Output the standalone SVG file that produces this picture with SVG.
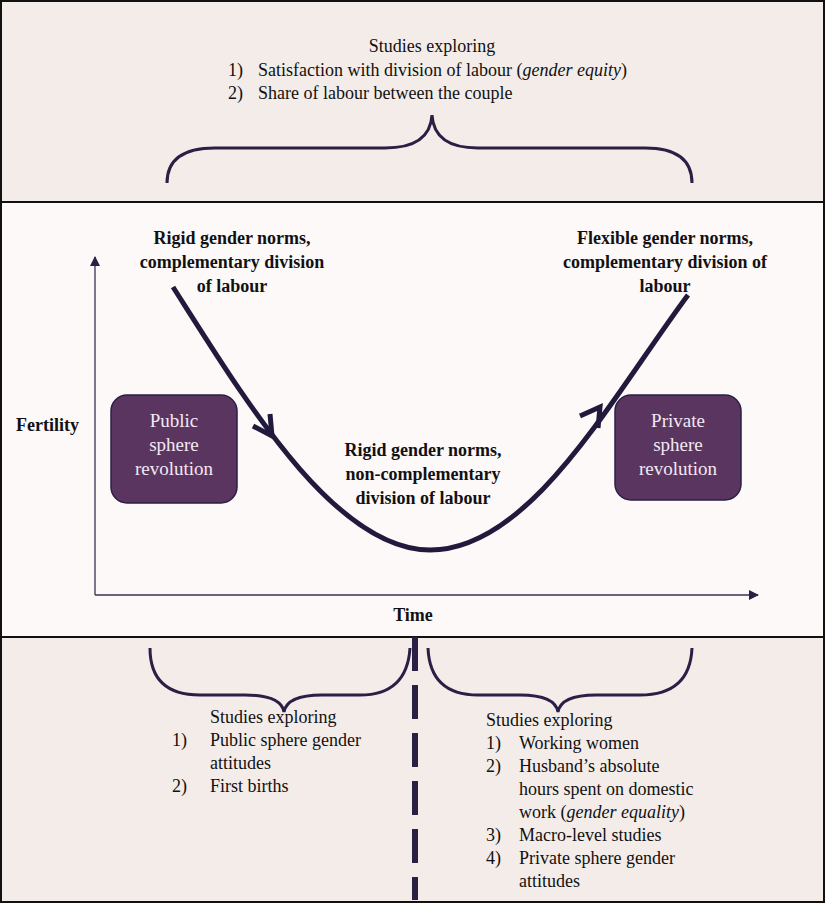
<svg xmlns="http://www.w3.org/2000/svg" width="825" height="903" viewBox="0 0 825 903">
<defs>
<style>
text{font-family:"Liberation Serif",Tinos,"Times New Roman","DejaVu Serif",serif;font-size:18px;fill:#111}
.b{font-weight:bold}
.w{fill:#f3e8f3;font-size:19px}
.br{fill:none;stroke:#2a1f45;stroke-width:3}
.box{fill:#5a3560;stroke:#2a1f45;stroke-width:1.5}
.chev{fill:none;stroke:#221a3c;stroke-width:5}
</style>
<marker id="ah" markerWidth="10" markerHeight="10" refX="9" refY="5" orient="auto" markerUnits="userSpaceOnUse"><path d="M0,0 L10,5 L0,10" fill="#2a1f45"/></marker>
</defs>
<rect x="1" y="1" width="823" height="201" fill="#f4ece9" stroke="#111" stroke-width="2"/>
<rect x="1" y="202" width="823" height="435" fill="#fdf9f9" stroke="#111" stroke-width="2"/>
<rect x="1" y="637" width="823" height="265" fill="#f4ece9" stroke="#111" stroke-width="2"/>

<g id="top-text">
<text x="432" y="52" text-anchor="middle">Studies exploring</text>
<text x="228" y="76">1)</text><text x="258" y="76">Satisfaction with division of labour (<tspan font-style="italic">gender equity</tspan>)</text>
<text x="228" y="99">2)</text><text x="258" y="99">Share of labour between the couple</text>
</g>

<g id="connectors">
<path class="br" d="M167,183 Q167,148 215,148 L385,148 Q430,148 432,115 Q434,148 478,148 L645,148 Q692,148 692,183"/>
<path class="br" d="M150,648 Q150,695 200,695 L245,695 Q281,695 284,712 Q287,695 322,695 L360,695 Q407,695 410,648"/>
<path class="br" d="M428,648 Q430,695 478,695 L520,695 Q555,695 558,712 Q561,695 596,695 L640,695 Q690,695 692,648"/>
<line x1="415" y1="637" x2="415" y2="900" stroke="#2a1f45" stroke-width="6" stroke-dasharray="34,14"/>
<line x1="95" y1="595" x2="95" y2="257" stroke="#3a3050" stroke-width="1.3" marker-end="url(#ah)"/>
<line x1="95" y1="595" x2="758" y2="595" stroke="#3a3050" stroke-width="1.3" marker-end="url(#ah)"/>
<path d="M173,287 C245,400 335,550 430,550 C530,550 610,400 688,295" fill="none" stroke="#221a3c" stroke-width="5"/>
<path class="chev" d="M253,426 L272,436 L270,414"/>
<path class="chev" d="M580,416 L600,407 L598,428"/>
</g>

<g id="labels">
<text class="b" x="232" y="244" text-anchor="middle">Rigid gender norms,</text>
<text class="b" x="232" y="268" text-anchor="middle">complementary division</text>
<text class="b" x="232" y="292" text-anchor="middle">of labour</text>
<text class="b" x="665" y="244" text-anchor="middle">Flexible gender norms,</text>
<text class="b" x="665" y="268" text-anchor="middle">complementary division of</text>
<text class="b" x="665" y="292" text-anchor="middle">labour</text>
<text class="b" x="423" y="456" text-anchor="middle">Rigid gender norms,</text>
<text class="b" x="423" y="480" text-anchor="middle">non-complementary</text>
<text class="b" x="423" y="504" text-anchor="middle">division of labour</text>
<text class="b" x="16" y="431">Fertility</text>
<text class="b" x="413" y="621" text-anchor="middle">Time</text>
</g>

<g id="public">
<rect class="box" x="111" y="395" width="126" height="108" rx="16"/>
<text class="w" x="174" y="427" text-anchor="middle">Public</text>
<text class="w" x="174" y="451" text-anchor="middle">sphere</text>
<text class="w" x="174" y="475" text-anchor="middle">revolution</text>
</g>
<g id="private">
<rect class="box" x="615" y="395" width="126" height="105" rx="16"/>
<text class="w" x="678" y="427" text-anchor="middle">Private</text>
<text class="w" x="678" y="451" text-anchor="middle">sphere</text>
<text class="w" x="678" y="475" text-anchor="middle">revolution</text>
</g>

<g id="bottom-left">
<text x="210" y="723">Studies exploring</text>
<text x="172" y="746">1)</text><text x="210" y="746">Public sphere gender</text>
<text x="210" y="769">attitudes</text>
<text x="172" y="792">2)</text><text x="210" y="792">First births</text>
</g>
<g id="bottom-right">
<text x="486" y="726">Studies exploring</text>
<text x="486" y="749">1)</text><text x="519" y="749">Working women</text>
<text x="486" y="772">2)</text><text x="519" y="772">Husband’s absolute</text>
<text x="519" y="795">hours spent on domestic</text>
<text x="519" y="818">work (<tspan font-style="italic">gender equality</tspan>)</text>
<text x="486" y="841">3)</text><text x="519" y="841">Macro-level studies</text>
<text x="486" y="864">4)</text><text x="519" y="864">Private sphere gender</text>
<text x="519" y="887">attitudes</text>
</g>
</svg>
